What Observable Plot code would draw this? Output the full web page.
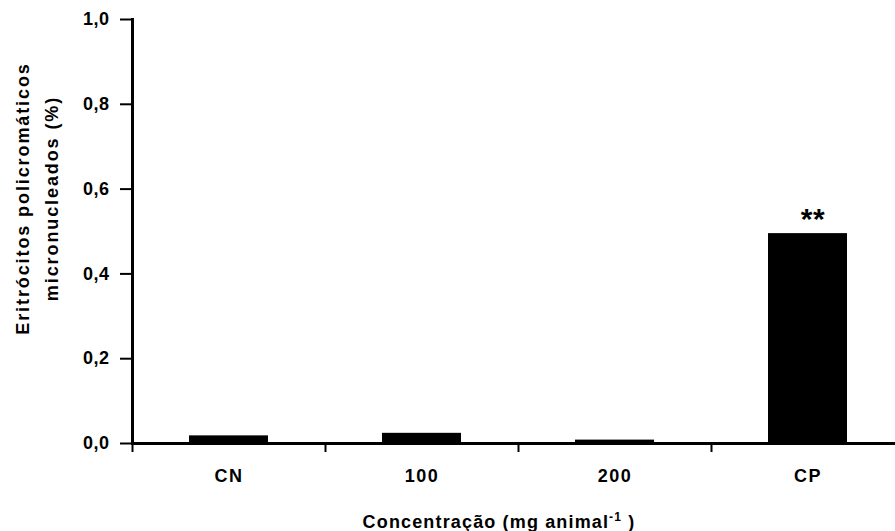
<!DOCTYPE html>
<html><head><meta charset="utf-8">
<script src="https://cdn.jsdelivr.net/npm/d3@7"></script>
<script src="https://cdn.jsdelivr.net/npm/@observablehq/plot@0.6"></script>
<style>body{margin:0;background:#fff;} #chart{width:895px;height:531px;overflow:hidden;}</style>
</head><body><div id="chart"></div>
<script>
const categories = ["CN", "100", "200", "CP"];
const values = [0.018, 0.024, 0.008, 0.495];
const significance = ["", "", "", "**"];
const yTicks = [0, 0.2, 0.4, 0.6, 0.8, 1.0];
const yLabelLines = ["Eritrócitos policromáticos", "micronucleados (%)"];
const xLabelMain = "Concentração (mg animal";
const xLabelSup = "-1";
const xLabelEnd = " )";

const data = categories.map((c, i) => ({cat: c, value: values[i], sig: significance[i]}));
const marginLeft = 132, plotRight = 904;
const step = (plotRight - marginLeft) / categories.length;
const barInset = (step - 79) / 2;
const font = "'Liberation Sans', Arial, Helvetica, sans-serif";
const fmt = d => d.toFixed(1).replace(".", ",");
const xLabelFull = xLabelMain + xLabelSup + xLabelEnd;

const chart = Plot.plot({
  width: 895, height: 531,
  marginLeft, marginRight: 0, marginTop: 19, marginBottom: 88,
  style: {fontFamily: font, fontWeight: "bold", fontSize: "18px", color: "#000", background: "#fff", overflow: "hidden", letterSpacing: "0.5px"},
  x: {domain: categories, range: [marginLeft, plotRight], padding: 0},
  y: {domain: [0, 1]},
  marks: [
    Plot.barY(data, {x: "cat", y: "value", fill: "#000", insetLeft: barInset, insetRight: barInset}),
    Plot.ruleY([0], {stroke: "#000", strokeWidth: 3}),
    Plot.frame({anchor: "left", stroke: "#000", strokeWidth: 3}),
    Plot.ruleX(categories, {x: d => d, y1: 0, y2: 0, insetBottom: -9, dx: -step / 2, stroke: "#000", strokeWidth: 2}),
    Plot.axisY({ticks: yTicks, tickFormat: fmt, tickSize: 12, tickPadding: 11, strokeWidth: 2, fontSize: 18, label: null}),
    Plot.axisX({tickSize: 0, tickPadding: 26, fontSize: 18, label: null}),
    Plot.text(data.filter(d => d.sig), {x: "cat", y: "value", text: "sig", dx: 5, dy: -5, lineAnchor: "bottom", fontSize: 30}),
    Plot.text([yLabelLines[0]], {frameAnchor: "left", textAnchor: "middle", rotate: -90, dx: -109, dy: -33, fontSize: 18}),
    Plot.text([yLabelLines[1]], {frameAnchor: "left", textAnchor: "middle", rotate: -90, dx: -80, dy: -33, fontSize: 18}),
    Plot.text([xLabelFull], {frameAnchor: "bottom", dx: -15, dy: 84, lineAnchor: "bottom", fontSize: 18})
  ]
});
document.getElementById("chart").appendChild(chart);

const svg = d3.select(chart);
// letter spacing like the reference
svg.selectAll('g[aria-label="x-axis tick label"]').style("letter-spacing", "1.5px");
svg.selectAll("text").filter(function() { return yLabelLines.includes(this.textContent); })
  .style("letter-spacing", "1.9px");
// render the exponent as a real superscript
svg.selectAll("text").filter(function() { return this.textContent === xLabelFull; })
  .style("letter-spacing", "1.15px")
  .each(function() {
    const t = d3.select(this);
    t.text(null);
    t.append("tspan").text(xLabelMain);
    t.append("tspan").attr("dy", "-7").attr("font-size", 12).text(xLabelSup);
    t.append("tspan").attr("dy", "7").text(xLabelEnd);
  });
</script>
</body></html>
